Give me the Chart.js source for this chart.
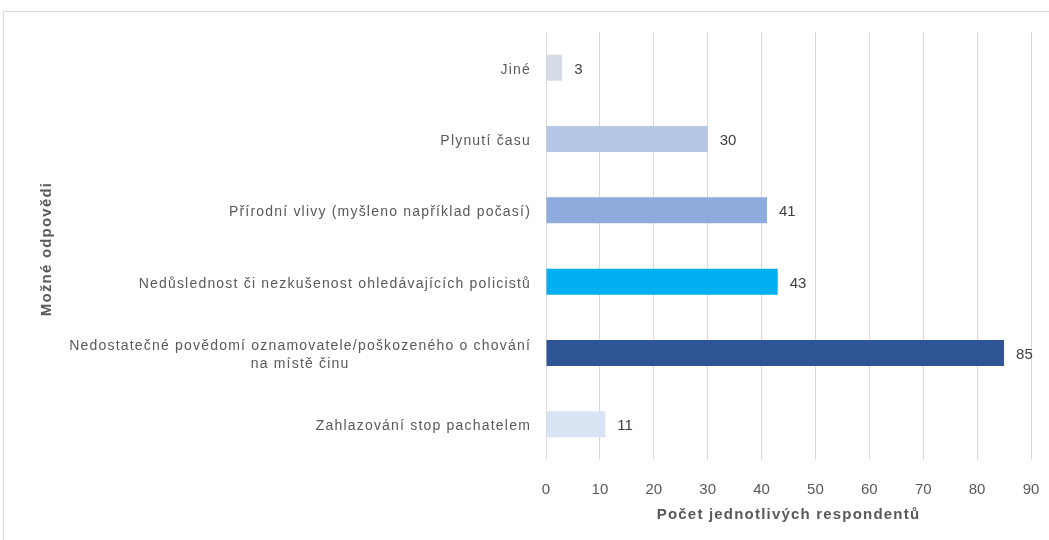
<!DOCTYPE html>
<html>
<head>
<meta charset="utf-8">
<script src="https://cdn.jsdelivr.net/npm/chart.js@4.4.1/dist/chart.umd.min.js"></script>
<style>
  html, body { margin: 0; padding: 0; background: #ffffff; }
  canvas { display: block; }
</style>
</head>
<body>
<canvas id="c" width="1049" height="540"></canvas>
<script>
const categories = [
  ['Jiné'],
  ['Plynutí času'],
  ['Přírodní vlivy (myšleno například počasí)'],
  ['Nedůslednost či nezkušenost ohledávajících policistů'],
  ['Nedostatečné povědomí oznamovatele/poškozeného o chování', 'na místě činu'],
  ['Zahlazování stop pachatelem']
];
const counts = [3, 30, 41, 43, 85, 11];
const barColors = ['#D6DCE5', '#B4C7E7', '#8FAADC', '#00B0F0', '#2F5597', '#DAE3F3'];
const xMin = 0, xMax = 90, xStep = 10;
const xTitle = 'Počet jednotlivých respondentů';
const yTitle = 'Možné odpovědi';

const FONT = "'Liberation Sans', Arial, sans-serif";

const framePlugin = {
  id: 'frame',
  beforeDraw(chart) {
    const ctx = chart.ctx;
    ctx.letterSpacing = '0px';
    ctx.save();
    ctx.strokeStyle = '#d9d9d9';
    ctx.lineWidth = 1;
    ctx.strokeRect(3.5, 11.5, 1200, 1000);
    ctx.restore();
  }
};

const textPlugin = {
  id: 'texts',
  afterDraw(chart) {
    const ctx = chart.ctx;
    const y = chart.scales.y;
    const area = chart.chartArea;
    const rightX = area.left - 15;
    ctx.save();
    ctx.letterSpacing = '1.2px';
    ctx.font = '14px ' + FONT;
    ctx.fillStyle = '#595959';
    ctx.textBaseline = 'middle';
    ctx.textAlign = 'center';
    const lh = 18;
    chart.data.labels.forEach((lines, i) => {
      const cy = y.getPixelForTick(i) + 2;
      const w = Math.max(...lines.map(l => ctx.measureText(l).width));
      const cx = rightX - w / 2;
      const y0 = cy - (lines.length - 1) * lh / 2;
      lines.forEach((l, k) => ctx.fillText(l, cx, y0 + k * lh));
    });

    // axis titles
    ctx.font = 'bold 15px ' + FONT;
    ctx.fillStyle = '#595959';
    ctx.fillText(xTitle, (area.left + area.right) / 2, area.bottom + 55);
    ctx.save();
    ctx.translate(area.left - 499, (area.top + area.bottom) / 2 + 3);
    ctx.rotate(-Math.PI / 2);
    ctx.fillText(yTitle, 0, 0);
    ctx.restore();
    ctx.letterSpacing = '0px';
    ctx.restore();
    ctx.letterSpacing = '0px';
  }
};

const valueLabelPlugin = {
  id: 'valueLabels',
  afterDatasetsDraw(chart) {
    const ctx = chart.ctx;
    ctx.save();
    ctx.letterSpacing = '0px';
    ctx.font = '15px ' + FONT;
    ctx.fillStyle = '#404040';
    ctx.textBaseline = 'middle';
    ctx.textAlign = 'left';
    const meta = chart.getDatasetMeta(0);
    meta.data.forEach((bar, i) => {
      ctx.fillText(String(chart.data.datasets[0].data[i]), bar.x + 12, bar.y + 2);
    });
    ctx.restore();
  }
};

new Chart(document.getElementById('c'), {
  type: 'bar',
  data: {
    labels: categories,
    datasets: [{
      data: counts,
      backgroundColor: barColors,
      borderWidth: 0,
      categoryPercentage: 1,
      barPercentage: 0.365
    }]
  },
  options: {
    indexAxis: 'y',
    responsive: false,
    animation: false,
    events: [],
    layout: { autoPadding: false, padding: { left: 38, right: 18, top: 32, bottom: 10 } },
    plugins: {
      legend: { display: false },
      tooltip: { enabled: false },
      title: { display: false }
    },
    scales: {
      x: {
        min: xMin,
        max: xMax,
        ticks: {
          stepSize: xStep,
          color: '#595959',
          font: { family: FONT, size: 15 },
          padding: 0
        },
        grid: { color: '#d9d9d9', lineWidth: 1, drawTicks: true, tickLength: 21, tickColor: 'rgba(0,0,0,0)' },
        border: { display: false },
        title: { display: false },
        afterFit(scale) { scale.height = 70; }
      },
      y: {
        ticks: { display: false },
        grid: { display: false, drawTicks: false },
        border: { display: false },
        title: { display: false },
        afterFit(scale) { scale.width = 508; }
      }
    }
  },
  plugins: [framePlugin, textPlugin, valueLabelPlugin]
});
</script>
</body>
</html>
